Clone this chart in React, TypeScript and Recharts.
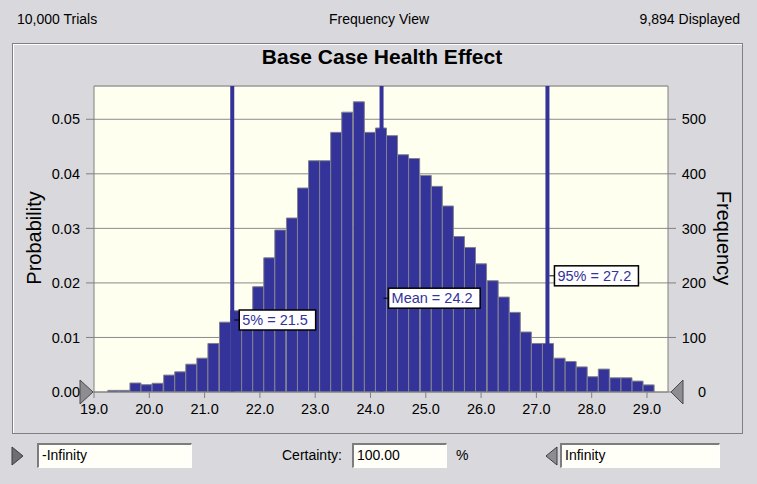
import React from 'react';
import { ComposedChart, Bar, XAxis, YAxis, CartesianGrid, ReferenceLine, ReferenceDot } from 'recharts';

const binCenters = [
  19.35, 19.55, 19.75, 19.95, 20.15, 20.36, 20.56, 20.76, 20.96, 21.16,
  21.37, 21.57, 21.77, 21.97, 22.17, 22.37, 22.58, 22.78, 22.98, 23.18,
  23.38, 23.58, 23.79, 23.99, 24.19, 24.39, 24.59, 24.79, 25.0, 25.2,
  25.4, 25.6, 25.8, 26.0, 26.21, 26.41, 26.61, 26.81, 27.01, 27.21,
  27.42, 27.62, 27.82, 28.02, 28.22, 28.43, 28.63, 28.83, 29.03,
];

const probabilities = [
  0.0003, 0.0003, 0.00165, 0.00134, 0.0016, 0.0031, 0.0037, 0.0051, 0.0062, 0.0089,
  0.0128, 0.0149, 0.0146, 0.0193, 0.0246, 0.0297, 0.0319, 0.0374, 0.0424, 0.0424,
  0.0476, 0.0513, 0.0532, 0.0476, 0.0484, 0.047, 0.0435, 0.0428, 0.0397, 0.0377,
  0.0341, 0.0285, 0.0265, 0.0235, 0.0204, 0.0174, 0.0146, 0.011, 0.0089, 0.0089,
  0.0062, 0.0056, 0.0046, 0.0028, 0.0042, 0.0026, 0.0026, 0.002, 0.0013,
];

const xTicks = [19, 20, 21, 22, 23, 24, 25, 26, 27, 28, 29];
const probTicks = [0, 0.01, 0.02, 0.03, 0.04, 0.05];
const freqTicks = [0, 100, 200, 300, 400, 500];

const markerValues = [21.5, 24.2, 27.2];
const markerLabels = ['5% = 21.5', 'Mean = 24.2', '95% = 27.2'];
const markerLabelLevels = [0.0132, 0.0172, 0.0213];

const X_MIN = 19;
const X_MAX = 29.38;
const P_MAX = 0.0561;

const data = binCenters.map((x, i) => ({ x, p: probabilities[i] }));

const FONT = '"Liberation Sans", Arial, sans-serif';
const BG = '#d9d9dd';
const BLUE = '#333399';

const makeMarkerLabel = (text: string) => (props: any) => {
  const { cx, cy } = props;
  const w = text.length * 7.6 + 8;
  const left = cx + 7;
  return (
    <g>
      <line x1={cx + 2} y1={cy} x2={left} y2={cy} stroke="#000" strokeWidth={1} />
      <rect x={left} y={cy - 10} width={w} height={20} fill="#ffffff" stroke="#000" strokeWidth={1.5} />
      <text x={left + 3} y={cy} dy="0.36em" fontSize={14.5} fill={BLUE} fontFamily={FONT}>
        {text}
      </text>
    </g>
  );
};

const LeftGrabber = (props: any) => {
  const { cx, cy } = props;
  return (
    <polygon
      points={`${cx - 1},${cy} ${cx - 14},${cy - 12} ${cx - 14},${cy + 12}`}
      fill="#8e8e92"
      stroke="#4a4a4e"
      strokeWidth={1}
    />
  );
};

const RightGrabber = (props: any) => {
  const { cx, cy } = props;
  return (
    <polygon
      points={`${cx + 3},${cy} ${cx + 15},${cy - 12} ${cx + 15},${cy + 12}`}
      fill="#8e8e92"
      stroke="#4a4a4e"
      strokeWidth={1}
    />
  );
};

const RightTick = (props: any) => {
  const { x, y, payload } = props;
  return (
    <text x={x + 24} y={y} dy="0.36em" textAnchor="end" fontSize={14.5} fill="#000" fontFamily={FONT}>
      {payload.value}
    </text>
  );
};

const inputBox = (left: number, width: number, text: string) => (
  <div
    style={{
      position: 'absolute',
      left,
      top: 443,
      width,
      height: 25,
      boxSizing: 'border-box',
      background: '#fffff8',
      borderTop: '2px solid #7d7d80',
      borderLeft: '2px solid #7d7d80',
      borderBottom: '1px solid #ffffff',
      borderRight: '1px solid #ffffff',
      fontSize: 14,
      lineHeight: '21px',
      paddingLeft: 3,
      whiteSpace: 'nowrap',
    }}
  >
    {text}
  </div>
);

export default function App() {
  return (
    <div
      style={{
        position: 'absolute',
        left: 0,
        top: 0,
        width: 757,
        height: 484,
        background: BG,
        fontFamily: FONT,
        color: '#000',
        overflow: 'hidden',
      }}
    >
      {/* header row */}
      <div style={{ position: 'absolute', left: 17, top: 11, fontSize: 14, whiteSpace: 'nowrap' }}>10,000 Trials</div>
      <div style={{ position: 'absolute', left: 379, top: 11, fontSize: 14, transform: 'translateX(-50%)', whiteSpace: 'nowrap' }}>
        Frequency View
      </div>
      <div style={{ position: 'absolute', right: 757 - 740, top: 11, fontSize: 14, whiteSpace: 'nowrap' }}>9,894 Displayed</div>

      {/* panel */}
      <div
        style={{
          position: 'absolute',
          left: 12,
          top: 43,
          width: 731,
          height: 391,
          boxSizing: 'border-box',
          border: '1px solid #808084',
          boxShadow: 'inset 1px 1px 0 #ffffff',
        }}
      />
      <div
        style={{
          position: 'absolute',
          left: 382,
          top: 45,
          transform: 'translateX(-50%)',
          fontSize: 21,
          fontWeight: 'bold',
          whiteSpace: 'nowrap',
        }}
      >
        Base Case Health Effect
      </div>

      {/* axis titles */}
      <div
        style={{
          position: 'absolute',
          left: 34,
          top: 238,
          transform: 'translate(-50%, -50%) rotate(-90deg)',
          fontSize: 20,
          whiteSpace: 'nowrap',
        }}
      >
        Probability
      </div>
      <div
        style={{
          position: 'absolute',
          left: 723,
          top: 238,
          transform: 'translate(-50%, -50%) rotate(90deg)',
          fontSize: 20,
          whiteSpace: 'nowrap',
        }}
      >
        Frequency
      </div>

      {/* chart */}
      <div style={{ position: 'absolute', left: 0, top: 0 }}>
        <ComposedChart
          width={757}
          height={484}
          data={data}
          margin={{ top: 86, right: 29, left: 34, bottom: 62 }}
        >
          <CartesianGrid vertical={false} stroke="#8a8a8a" strokeWidth={1} fill="#fffff0" fillOpacity={1} yAxisId="left" />
          <XAxis
            dataKey="x"
            type="number"
            domain={[X_MIN, X_MAX]}
            ticks={xTicks}
            interval={0}
            allowDataOverflow
            tickFormatter={(v: number) => v.toFixed(1)}
            height={30}
            tickSize={6}
            tickMargin={6}
            axisLine={{ stroke: '#808080' }}
            tickLine={{ stroke: '#808080' }}
            tick={{ fontSize: 14.5, fill: '#000', fontFamily: FONT }}
          />
          <YAxis
            yAxisId="left"
            type="number"
            domain={[0, P_MAX]}
            ticks={probTicks}
            allowDataOverflow
            width={60}
            tickSize={8}
            tickMargin={6}
            tickFormatter={(v: number) => v.toFixed(2)}
            axisLine={{ stroke: '#808080' }}
            tickLine={{ stroke: '#808080' }}
            tick={{ fontSize: 14.5, fill: '#000', fontFamily: FONT }}
          />
          <YAxis
            yAxisId="right"
            orientation="right"
            type="number"
            domain={[0, P_MAX * 10000]}
            ticks={freqTicks}
            allowDataOverflow
            width={60}
            tickSize={8}
            tickMargin={6}
            axisLine={{ stroke: '#808080' }}
            tickLine={{ stroke: '#808080' }}
            tick={<RightTick />}
          />
          <ReferenceLine yAxisId="left" y={P_MAX} stroke="#a0a0a0" strokeWidth={1} />
          <Bar
            yAxisId="left"
            dataKey="p"
            fill={BLUE}
            stroke="#808090"
            strokeWidth={1}
            barSize={11}
            isAnimationActive={false}
          />
          {markerValues.map((v) => (
            <ReferenceLine key={'l' + v} yAxisId="left" x={v} stroke={BLUE} strokeWidth={4} />
          ))}
          {markerValues.map((v, i) => (
            <ReferenceDot
              key={'d' + v}
              yAxisId="left"
              x={v}
              y={markerLabelLevels[i]}
              ifOverflow="visible"
              shape={makeMarkerLabel(markerLabels[i])}
            />
          ))}
          <ReferenceDot yAxisId="left" x={X_MIN} y={0} ifOverflow="visible" shape={LeftGrabber} />
          <ReferenceDot yAxisId="left" x={X_MAX} y={0} ifOverflow="visible" shape={RightGrabber} />
        </ComposedChart>
      </div>

      {/* bottom controls */}
      <svg style={{ position: 'absolute', left: 0, top: 0 }} width={757} height={484} pointerEvents="none">
        <polygon points="23,456 12,447 12,465" fill="#6e6e72" stroke="#3c3c40" strokeWidth={1} />
        <polygon points="546,456 557,447 557,465" fill="#8e8e92" stroke="#3c3c40" strokeWidth={1} />
      </svg>
      {inputBox(37, 155, '-Infinity')}
      <div style={{ position: 'absolute', left: 282, top: 447, fontSize: 14, whiteSpace: 'nowrap' }}>Certainty:</div>
      {inputBox(352, 95, '100.00')}
      <div style={{ position: 'absolute', left: 456, top: 447, fontSize: 14 }}>%</div>
      {inputBox(560, 160, 'Infinity')}
    </div>
  );
}
